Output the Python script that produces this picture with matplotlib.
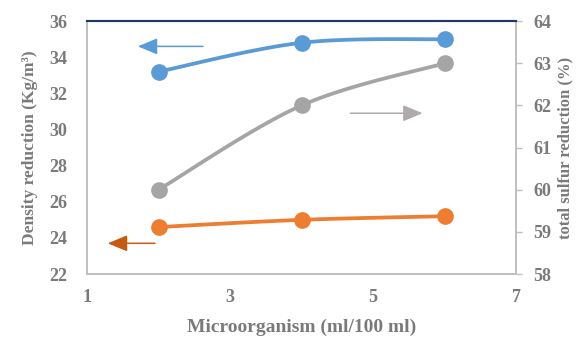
import numpy as np
import matplotlib.pyplot as plt

plt.rcParams['font.family'] = ['Liberation Serif', 'DejaVu Serif']

# data
x = [2, 4, 6]
density_a = [33.2, 34.8, 35.0]   # blue, left axis
density_b = [24.6, 25.0, 25.2]   # orange, left axis
sulfur = [60.0, 62.0, 63.0]      # gray, right axis


def smooth(xs, ys, n=40):
    # excel-like smoothed line (bezier through the points)
    xs = np.asarray(xs, float)
    ys = np.asarray(ys, float)
    px = np.concatenate([[xs[0]], xs, [xs[-1]]])
    py = np.concatenate([[ys[0]], ys, [ys[-1]]])
    ox, oy = [], []
    t = np.linspace(0, 1, n)
    for i in range(1, len(px) - 2):
        p0 = np.array([px[i], py[i]])
        p3 = np.array([px[i + 1], py[i + 1]])
        p1 = p0 + (np.array([px[i + 1], py[i + 1]]) - np.array([px[i - 1], py[i - 1]])) / 6
        p2 = p3 - (np.array([px[i + 2], py[i + 2]]) - np.array([px[i], py[i]])) / 6
        b = ((1 - t) ** 3)[:, None] * p0 + (3 * (1 - t) ** 2 * t)[:, None] * p1 \
            + (3 * (1 - t) * t ** 2)[:, None] * p2 + (t ** 3)[:, None] * p3
        ox.extend(b[:, 0])
        oy.extend(b[:, 1])
    return ox, oy


blue = '#5B9BD5'
orange = '#ED7D31'
gray = '#A5A5A5'
txt = '#7A7A7A'
spine = '#BFBFBF'

fig = plt.figure(figsize=(5.84, 3.4), dpi=100)
ax = fig.add_axes([0.149, 0.194, 0.735, 0.744])
ax2 = ax.twinx()

sx, sy = smooth(x, density_a)
ax.plot(sx, sy, color=blue, lw=2.7, zorder=3)
ax.plot(x, density_a, 'o', color=blue, ms=11, zorder=4)
sx, sy = smooth(x, density_b)
ax.plot(sx, sy, color=orange, lw=2.7, zorder=3)
ax.plot(x, density_b, 'o', color=orange, ms=11, zorder=4)
sx, sy = smooth(x, sulfur)
ax2.plot(sx, sy, color=gray, lw=2.7, zorder=3)
ax2.plot(x, sulfur, 'o', color=gray, ms=11, zorder=4)

# arrows showing which axis
head = '-|>,head_length=1.2,head_width=0.5'
ax.annotate('', xy=(1.71, 34.6), xytext=(2.62, 34.6),
            arrowprops=dict(arrowstyle=head, color=blue, lw=1.1, shrinkA=0, shrinkB=0))
ax.annotate('', xy=(1.29, 23.7), xytext=(1.95, 23.7),
            arrowprops=dict(arrowstyle=head, color='#C55A11', lw=1.1, shrinkA=0, shrinkB=0))
ax.annotate('', xy=(5.69, 30.9), xytext=(4.68, 30.9),
            arrowprops=dict(arrowstyle=head, color='#AFABAB', lw=1.1, shrinkA=0, shrinkB=0))

ax.set_xlim(1, 7)
ax.set_ylim(22, 36)
ax2.set_ylim(58, 64)
ax.set_xticks([1, 3, 5, 7])
ax.set_yticks(range(22, 37, 2))
ax2.set_yticks(range(58, 65))

for a in (ax, ax2):
    for s in a.spines.values():
        s.set_color(spine)
        s.set_linewidth(1.2)
    a.spines['top'].set_color('#1F3864')
    a.spines['top'].set_linewidth(1.5)
    a.tick_params(labelsize=13, colors=txt, labelcolor=txt)
    for lab in a.get_xticklabels() + a.get_yticklabels():
        lab.set_fontweight('bold')

ax.tick_params(axis='y', length=0, pad=14)
ax.tick_params(axis='x', length=0, pad=11)
ax2.tick_params(axis='y', length=4, width=1, color=spine, pad=8)

ax.set_xlabel('Microorganism (ml/100 ml)', fontsize=14, fontweight='bold', color=txt, labelpad=9)
ax.set_ylabel('Density reduction (Kg/m³)', fontsize=12.5, fontweight='bold', color=txt, labelpad=8)
ax2.set_ylabel('total sulfur reduction (%)', fontsize=12, fontweight='bold', color=txt, labelpad=5)

fig.savefig('out.png', dpi=100)
